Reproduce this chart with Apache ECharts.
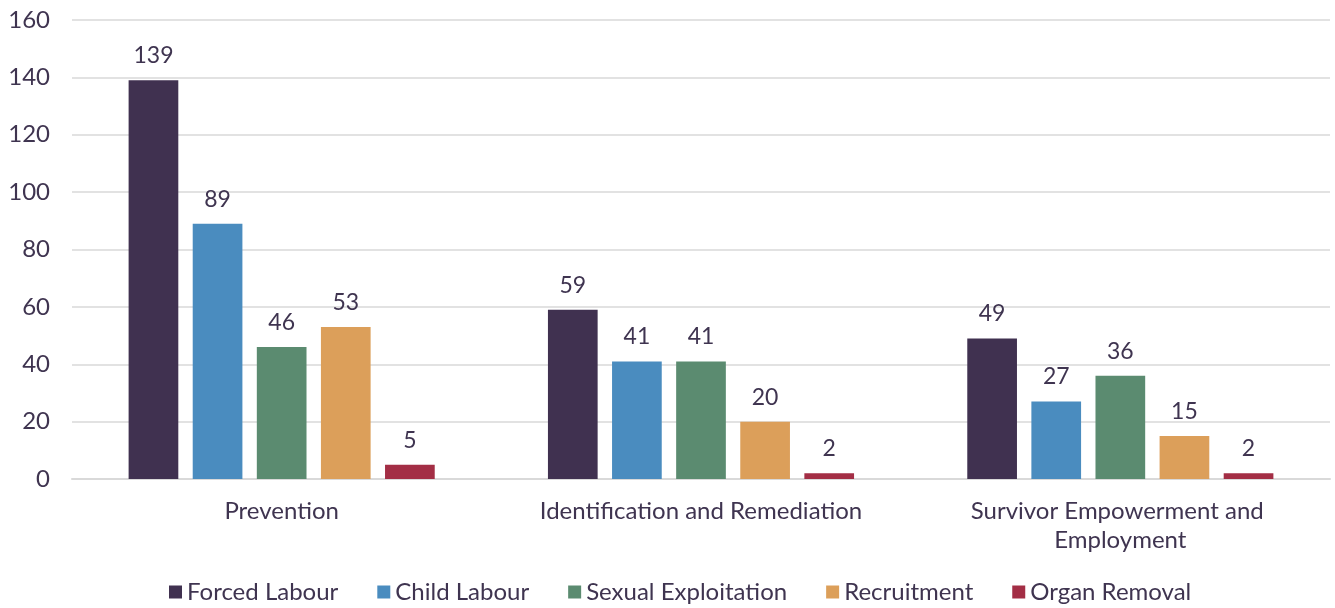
<!DOCTYPE html>
<html>
<head>
<meta charset="utf-8">
<script src="https://cdn.jsdelivr.net/npm/echarts@6/dist/echarts.min.js"></script>
<style>
  html, body { margin: 0; padding: 0; background: #fff; }
  #main { width: 1335px; height: 608px; }
</style>
</head>
<body>
<div id="main"></div>
<script>
  // categories and series
  var categories = ['Prevention', 'Identification and Remediation', 'Survivor Empowerment and Employment'];
  var seriesNames = ['Forced Labour', 'Child Labour', 'Sexual Exploitation', 'Recruitment', 'Organ Removal'];
  var forcedLabour = [139, 59, 49];
  var childLabour = [89, 41, 27];
  var sexualExploitation = [46, 41, 36];
  var recruitment = [53, 20, 15];
  var organRemoval = [5, 2, 2];

  var colors = ['#403150', '#4a8cbf', '#5b8b70', '#dc9f5a', '#a32e45'];
  var textColor = '#3f3450';
  var font = 'Lato, "DejaVu Sans", sans-serif';

  var values = [forcedLabour, childLabour, sexualExploitation, recruitment, organRemoval];

  var chart = echarts.init(document.getElementById('main'));

  var series = seriesNames.map(function (name, i) {
    return {
      name: name,
      type: 'bar',
      data: values[i],
      barGap: '29%',
      barCategoryGap: '27%',
      itemStyle: { color: colors[i] },
      label: {
        show: true,
        position: 'top',
        distance: 13,
        color: textColor,
        fontFamily: font,
        fontSize: 23
      }
    };
  });

  chart.setOption({
    animation: false,
    color: colors,
    grid: { left: 72, right: 5, top: 20, bottom: 129 },
    legend: {
      bottom: -1,
      left: 164,
      itemWidth: 13,
      itemHeight: 13,
      itemGap: 39,
      icon: 'rect',
      data: seriesNames,
      textStyle: { color: textColor, fontFamily: font, fontSize: 24 }
    },
    xAxis: {
      type: 'category',
      data: categories,
      axisTick: { show: false },
      axisLine: { lineStyle: { color: '#d9d9d9', width: 2 } },
      axisLabel: {
        interval: 0,
        margin: 18,
        color: textColor,
        fontFamily: font,
        fontSize: 24,
        lineHeight: 29,
        width: 340,
        overflow: 'break'
      }
    },
    yAxis: {
      type: 'value',
      min: 0,
      max: 160,
      interval: 20,
      axisLine: { show: false },
      axisTick: { show: false },
      splitLine: { lineStyle: { color: '#d9d9d9', width: 1.5 } },
      axisLabel: {
        margin: 22,
        color: textColor,
        fontFamily: font,
        fontSize: 24
      }
    },
    series: series
  });
</script>
</body>
</html>
